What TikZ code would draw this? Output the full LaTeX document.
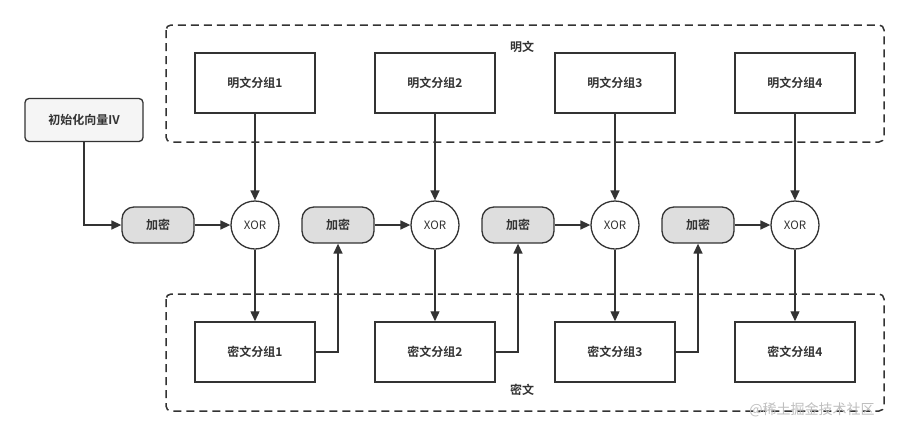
\documentclass[tikz,border=0pt]{standalone}
\usepackage{fontspec}
\setmainfont{Noto Sans CJK SC}
\newfontfamily\cjkb{Noto Sans CJK SC}[BoldFont={Noto Sans CJK SC Bold}]
\usetikzlibrary{arrows.meta,positioning}
\definecolor{ln}{HTML}{333333}
\tikzset{
  x=1pt,y=-1pt,
  every node/.style={font=\cjkb\bfseries\fontsize{12}{14}\selectfont, text=ln},
  blk/.style={draw=ln, line width=1.5pt, minimum width=120pt, minimum height=60pt, inner sep=0pt},
  enc/.style={draw=ln, line width=1.3pt, fill=black!13, rounded corners=12pt, minimum width=72pt, minimum height=36pt, inner sep=0pt},
  xorn/.style={draw=ln, line width=1.3pt, circle, minimum size=48pt, inner sep=0pt, font=\cjkb\fontsize{11.5}{12}\selectfont},
  grp/.style={draw=ln, line width=1.5pt, dash pattern=on 8pt off 5pt, rounded corners=5pt},
  arr/.style={draw=ln, line width=1.4pt, -{Triangle[length=10pt,width=9pt]}},
}
\begin{document}
\begin{tikzpicture}
\useasboundingbox (0,0) rectangle (908,437);
\fill[white] (0,0) rectangle (908,437);
% groups
\draw[grp] (166,25) rectangle (884,142);
\node at (522,47) {明文};
\draw[grp] (166,294) rectangle (884,411);
\node at (522,390) {密文};
% IV
\node[draw=ln, line width=1.3pt, fill=black!4, rounded corners=4pt, minimum width=118pt, minimum height=43pt, inner sep=0pt] (iv) at (84,120) {初始化向量IV};
\foreach \i/\x in {1/255,2/435,3/615,4/795}{
  \node[blk] (p\i) at (\x,83) {明文分组\i};
  \node[xorn] (x\i) at (\x,225) {XOR};
  \node[blk] (c\i) at (\x,352) {密文分组\i};
  \node[enc] (e\i) at ({\x-97},225) {加密};
  \draw[arr] (p\i) -- (x\i);
  \draw[arr] (x\i) -- (c\i);
  \draw[arr] (e\i) -- (x\i);
}
\draw[arr] (iv.south) |- (e1.west);
\draw[arr] (c1.east) -| (e2.south);
\draw[arr] (c2.east) -| (e3.south);
\draw[arr] (c3.east) -| (e4.south);
\node[font=\cjkb\fontsize{14}{15}\selectfont, text=black!25] (wm) at (812,410) {@稀土掘金技术社区};
\end{tikzpicture}
\end{document}
